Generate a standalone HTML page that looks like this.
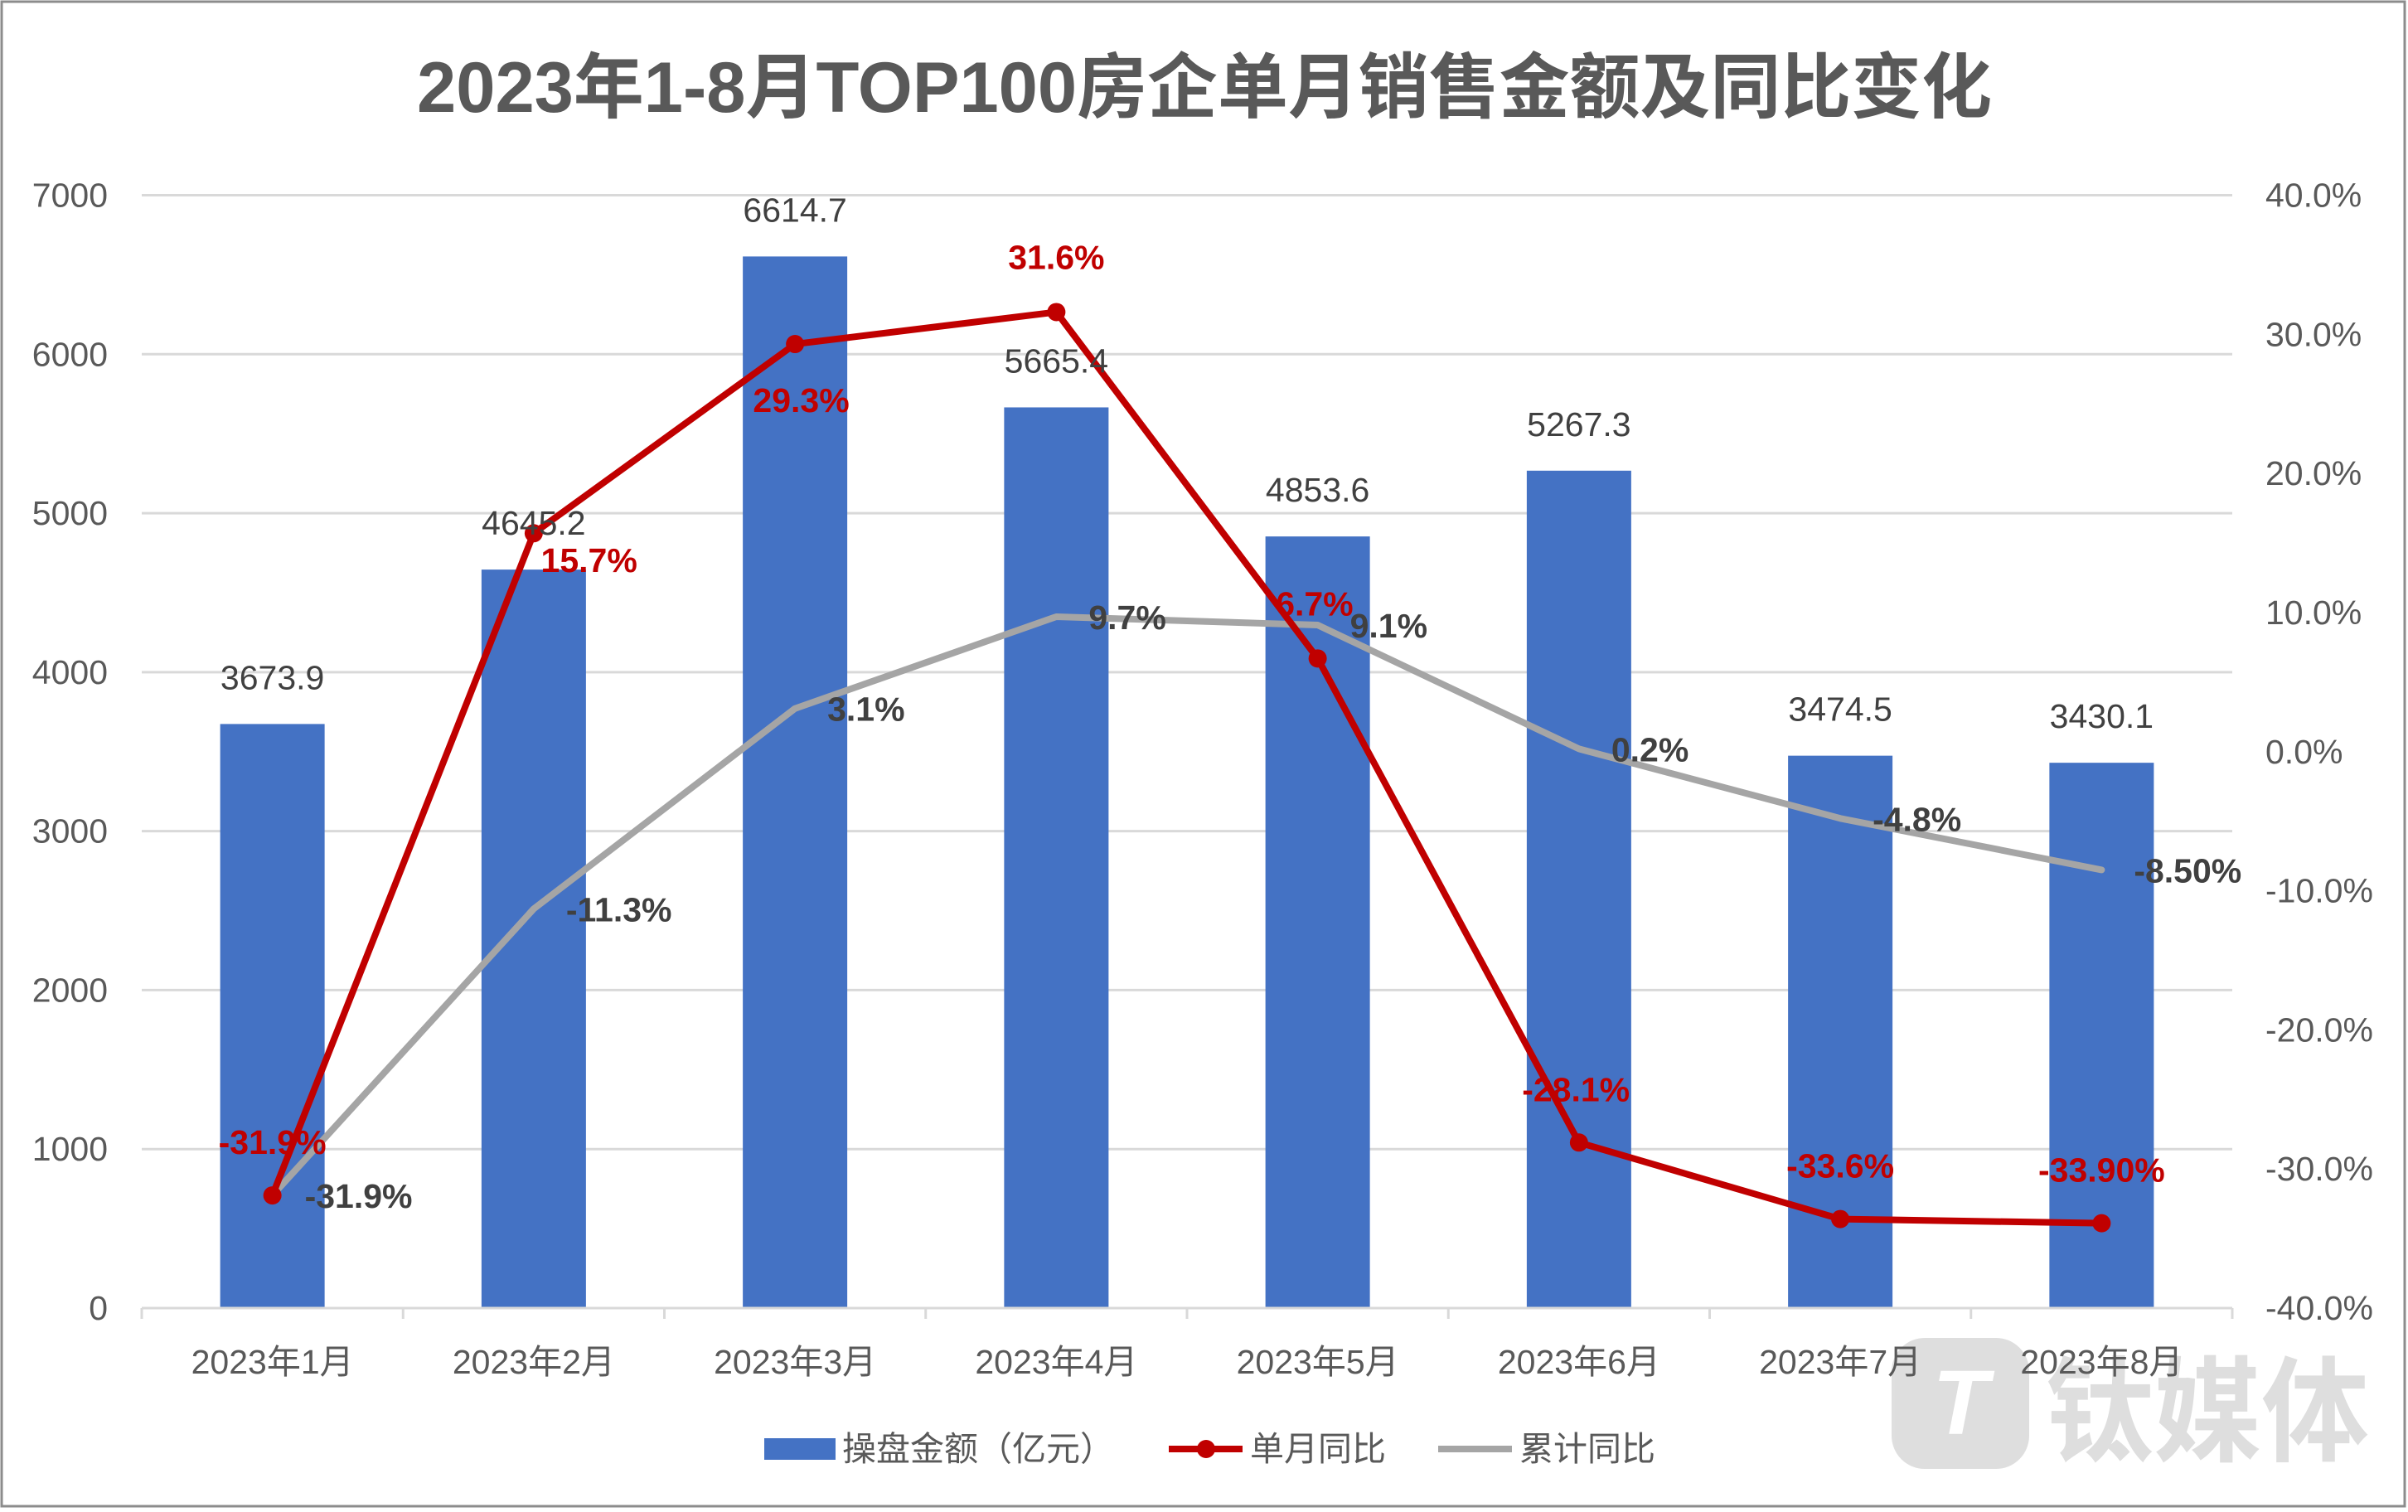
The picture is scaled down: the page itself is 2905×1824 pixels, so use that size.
<!DOCTYPE html>
<html><head><meta charset="utf-8">
<style>
html,body{margin:0;padding:0;background:#fff;}
svg{display:block;font-family:"Liberation Sans","Noto Sans CJK SC",sans-serif;}
</style></head>
<body>
<svg id="chart" width="2905" height="1824" viewBox="0 0 2905 1824" xmlns="http://www.w3.org/2000/svg">
<rect x="2" y="2" width="2899" height="1815" fill="#fff" stroke="#8c8c8c" stroke-width="3"/>
<text x="1453" y="135" text-anchor="middle" font-size="86" font-weight="bold" fill="#595959" textLength="1900" lengthAdjust="spacingAndGlyphs">2023年1-8月TOP100房企单月销售金额及同比变化</text>
<g id="watermark" opacity="0.85">
<rect x="2282" y="1614" width="166" height="158" rx="40" fill="#d9d9d9"/>
<text x="2365" y="1730" text-anchor="middle" font-size="110" font-weight="bold" fill="#fff" font-style="italic">T</text>
<text x="2468" y="1752" font-size="138" font-weight="bold" fill="#d9d9d9" textLength="390" lengthAdjust="spacingAndGlyphs">钛媒体</text>
</g>
<g id="grid"></g>
<g id="bars"></g>
<g id="lines"></g>
<g id="labels"></g>
<g id="axes"></g>
<g id="legend"></g>
</svg>
<script>
const categories = ["2023年1月","2023年2月","2023年3月","2023年4月","2023年5月","2023年6月","2023年7月","2023年8月"];
const salesValues = [3673.9,4645.2,6614.7,5665.4,4853.6,5267.3,3474.5,3430.1];
const monthlyYoY = [-31.9,15.7,29.3,31.6,6.7,-28.1,-33.6,-33.9];
const cumulativeYoY = [-31.9,-11.3,3.1,9.7,9.1,0.2,-4.8,-8.5];
const monthlyLabels = ["-31.9%","15.7%","29.3%","31.6%","6.7%","-28.1%","-33.6%","-33.90%"];
const cumulativeLabels = ["-31.9%","-11.3%","3.1%","9.7%","9.1%","0.2%","-4.8%","-8.50%"];
const leftTicks = [0,1000,2000,3000,4000,5000,6000,7000];
const rightTicks = [-40,-30,-20,-10,0,10,20,30,40];
const rightTickLabels = ["-40.0%","-30.0%","-20.0%","-10.0%","0.0%","10.0%","20.0%","30.0%","40.0%"];

const NS="http://www.w3.org/2000/svg";
const k=1.855;
const plotL=171, plotR=2693, yBot=1578, yTop=235.5;
const step=(plotR-plotL)/categories.length;
const xC=i=>plotL+step*(i+0.5);
const yL=v=>yBot-(v-0)/7000*(yBot-yTop);
const yR=v=>yBot-(v+40)/80*(yBot-yTop);
function mk(tag,attrs,parent,text){const e=document.createElementNS(NS,tag);for(const a in attrs)e.setAttribute(a,attrs[a]);if(text!==undefined)e.textContent=text;parent.appendChild(e);return e;}
const G=id=>document.getElementById(id);

// grid + left ticks
leftTicks.forEach((t,i)=>{
  if(t>0){const l=mk('line',{x1:plotL,x2:plotR,y1:yL(t),y2:yL(t),stroke:'#d9d9d9','stroke-width':3},G('grid'));
  
  }
  const tx=mk('text',{x:130,y:yL(t)+14,'text-anchor':'end','font-size':41,fill:'#595959'},G('axes'),String(t));
  
  
});
rightTicks.forEach((t,i)=>{
  const tx=mk('text',{x:2733,y:yR(t)+14,'font-size':41,fill:'#595959'},G('axes'),rightTickLabels[i]);
  
  
});
// x axis
const ax=mk('line',{x1:plotL,x2:plotR,y1:yBot,y2:yBot,stroke:'#d9d9d9','stroke-width':3},G('axes'));


for(let i=0;i<=categories.length;i++){
  const tk=mk('line',{x1:plotL+step*i,x2:plotL+step*i,y1:yBot,y2:yBot+13,stroke:'#d9d9d9','stroke-width':3},G('axes'));
  
  
}
categories.forEach((c,i)=>{
  const tx=mk('text',{x:xC(i),y:1657,'text-anchor':'middle','font-size':41,fill:'#595959'},G('axes'),c);
  
  
});
// bars
const bw=126;
salesValues.forEach((v,i)=>{
  const r=mk('rect',{x:xC(i)-bw/2,y:yL(v),width:bw,height:yBot-yL(v),fill:'#4472C4'},G('bars'));
  
  
  const t=mk('text',{x:xC(i),y:yL(v)-56*1+14+0,'text-anchor':'middle','font-size':41,fill:'#404040'},G('labels'),v.toFixed(1));
  
  
});
// lines
function poly(vals,color,name){
  const pts=vals.map((v,i)=>xC(i)+','+yR(v)).join(' ');
  const p=mk('polyline',{points:pts,fill:'none',stroke:color,'stroke-width':8,'stroke-linejoin':'round','stroke-linecap':'round'},G('lines'));
  
  
}
poly(cumulativeYoY,'#A5A5A5','cumulative-yoy-line');
poly(monthlyYoY,'#C00000','monthly-yoy-line');
monthlyYoY.forEach((v,i)=>{
  const c=mk('circle',{cx:xC(i),cy:yR(v),r:11,fill:'#C00000'},G('lines'));
  
  
});
// labels
const redOff=[[0,-35],[36,17],[4,36],[0,-36],[-2,-36],[-2,-35],[0,-35],[0,-35]];
monthlyYoY.forEach((v,i)=>{
  const t=mk('text',{x:xC(i)+redOff[i][0]*k,y:yR(v)+redOff[i][1]*k+15,'text-anchor':'middle','font-size':41,'font-weight':'bold',fill:'#C00000'},G('labels'),monthlyLabels[i]);
  
  
});
cumulativeYoY.forEach((v,i)=>{
  const t=mk('text',{x:xC(i)+21*k,y:yR(v)+15,'font-size':41,'font-weight':'bold',fill:'#404040'},G('labels'),cumulativeLabels[i]);
  
  
});
// legend
const lg=G('legend');
const l1=mk('rect',{x:922,y:1735,width:86,height:26,fill:'#4472C4'},lg);


const lt1=mk('text',{x:1016,y:1762,'font-size':41,fill:'#595959'},lg,'操盘金额（亿元）');


const l2=mk('line',{x1:1410,x2:1499,y1:1748,y2:1748,stroke:'#C00000','stroke-width':8},lg);


const l2c=mk('circle',{cx:1455,cy:1748,r:11,fill:'#C00000'},lg);


const lt2=mk('text',{x:1508,y:1762,'font-size':41,fill:'#595959'},lg,'单月同比');


const l3=mk('line',{x1:1735,x2:1824,y1:1748,y2:1748,stroke:'#A5A5A5','stroke-width':8},lg);


const lt3=mk('text',{x:1833,y:1762,'font-size':41,fill:'#595959'},lg,'累计同比');


</script>
</body></html>
